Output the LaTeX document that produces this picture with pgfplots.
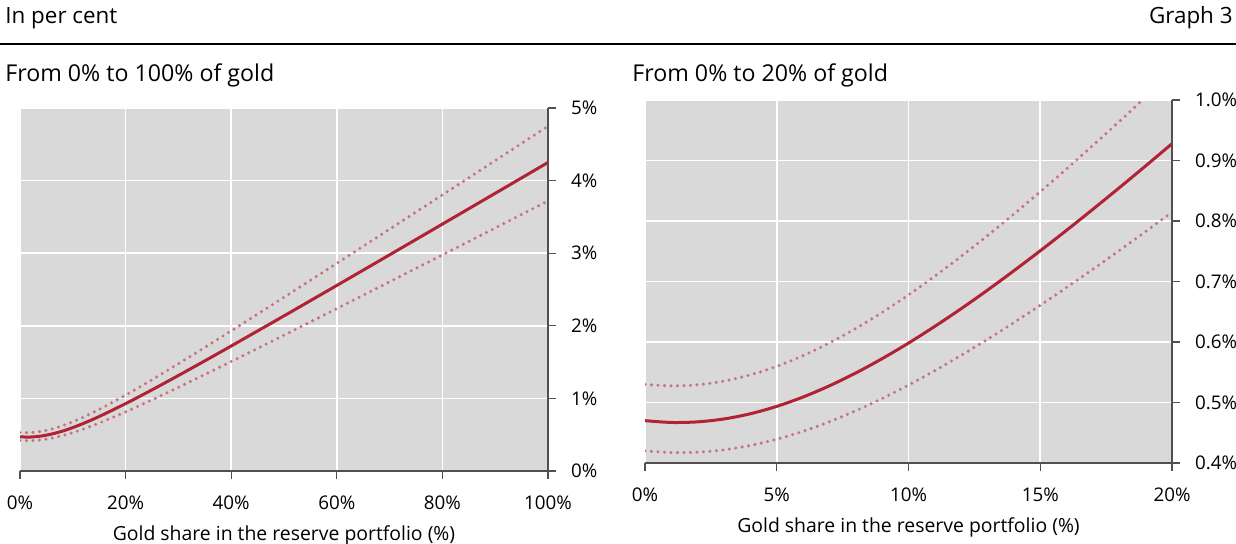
\documentclass[border=0pt]{standalone}
\usepackage{fontspec}
\setmainfont{Open Sans}
\usepackage{pgfplots}
\usepackage{pgfplotstable}
\pgfplotsset{compat=1.18}

\definecolor{plotbg}{RGB}{217,217,217}
\definecolor{axisgray}{RGB}{80,80,80}
\definecolor{mainred}{RGB}{175,35,52}
\definecolor{bandred}{RGB}{196,115,127}

% Gold share (%) against portfolio risk (%): central estimate and band
\pgfplotstableread{
x    mid     hi      lo
0    0.4700  0.5300  0.4200
2    0.4680  0.5293  0.4179
4    0.4814  0.5457  0.4290
6    0.5091  0.5775  0.4524
8    0.5488  0.6224  0.4864
10   0.5982  0.6779  0.5289
12   0.6551  0.7416  0.5780
15   0.7508  0.8484  0.6607
20   0.9278  1.0458  0.8146
25   1.1179  1.2576  0.9802
30   1.3153  1.4776  1.1524
35   1.5171  1.7026  1.3288
40   1.7219  1.9308  1.5077
50   2.1368  2.3934  1.8705
60   2.5560  2.8608  2.2372
70   2.9776  3.3309  2.6062
80   3.4007  3.8028  2.9765
90   3.8249  4.2759  3.3478
100  4.2498  4.7498  3.7197
}\fulltable

\pgfplotstableread{
x    mid     hi      lo
0    0.4700  0.5300  0.4200
1    0.4670  0.5275  0.4173
2    0.4680  0.5293  0.4179
3    0.4728  0.5354  0.4218
4    0.4814  0.5457  0.4290
5    0.4936  0.5598  0.4393
6    0.5091  0.5775  0.4524
7    0.5276  0.5985  0.4682
8    0.5488  0.6224  0.4864
9    0.5725  0.6490  0.5067
10   0.5982  0.6779  0.5289
11   0.6259  0.7089  0.5527
12   0.6551  0.7416  0.5780
13   0.6858  0.7759  0.6045
14   0.7178  0.8115  0.6321
15   0.7508  0.8484  0.6607
16   0.7847  0.8862  0.6902
17   0.8195  0.9250  0.7204
18   0.8550  0.9646  0.7512
19   0.8911  1.0049  0.7827
20   0.9278  1.0458  0.8146
}\zoomtable

\pgfplotsset{
  panel/.style={
    scale only axis,
    axis background/.style={fill=plotbg},
    axis x line*=bottom,
    axis y line*=right,
    axis line style={draw=axisgray, line width=0.6pt},
    tick align=outside,
    major tick length=4pt,
    tick style={draw=axisgray, line width=0.6pt},
    grid=major,
    major grid style={white, line width=0.8pt},
    /pgf/number format/assume math mode=true,
    tick label style={font=\fontsize{9.4}{11}\selectfont, text=black},
    xticklabel style={yshift=-5pt},
    yticklabel style={xshift=4pt},
    every axis x label/.style={at={(axis description cs:0.5,0)}, anchor=base,
      yshift=-34.5pt, font=\fontsize{9.7}{11}\selectfont},
    xlabel={Gold share in the reserve portfolio (\%)},
  },
  mid/.style={mainred, line width=1.5pt, smooth},
  band/.style={bandred, line width=1.7pt, line cap=round,
    dash pattern=on 0pt off 3.25pt, smooth},
}

\begin{document}
\begin{tikzpicture}[x=1pt,y=1pt]
\path[use as bounding box] (0,0) rectangle (618,-272);

\node[anchor=base west, inner sep=0, font=\fontsize{11.2}{13}\selectfont] at (2.5,-11.7) {In per cent};
\node[anchor=base east, inner sep=0, font=\fontsize{11.2}{13}\selectfont] at (616.5,-11.7) {Graph 3};
\draw[line width=1pt] (0,-21.8) -- (618,-21.8);

\node[anchor=base west, inner sep=0, font=\fontsize{11.6}{13}\selectfont] at (2.5,-40.8) {From 0\% to 100\% of gold};
\node[anchor=base west, inner sep=0, font=\fontsize{11.6}{13}\selectfont] at (316,-40.8) {From 0\% to 20\% of gold};

\begin{axis}[panel,
  at={(10pt,-235.5pt)}, anchor=south west,
  width=264pt, height=181.5pt,
  xmin=0, xmax=100, ymin=0, ymax=5,
  xtick={0,20,...,100}, ytick={0,1,...,5},
  xticklabel={\pgfmathprintnumber{\tick}\%},
  yticklabel={\pgfmathprintnumber{\tick}\%},
]
\addplot[band] table[x=x, y=hi] {\fulltable};
\addplot[band] table[x=x, y=lo] {\fulltable};
\addplot[mid] table[x=x, y=mid] {\fulltable};
\end{axis}

\begin{axis}[panel,
  at={(322.5pt,-231.5pt)}, anchor=south west,
  width=263.5pt, height=181.5pt,
  xmin=0, xmax=20, ymin=0.4, ymax=1.0,
  xtick={0,5,...,20}, ytick={0.4,0.5,...,1.0},
  xticklabel={\pgfmathprintnumber{\tick}\%},
  yticklabel={\pgfmathprintnumber[fixed, fixed zerofill, precision=1]{\tick}\%},
]
\addplot[band] table[x=x, y=hi] {\zoomtable};
\addplot[band] table[x=x, y=lo] {\zoomtable};
\addplot[mid] table[x=x, y=mid] {\zoomtable};
\end{axis}
\end{tikzpicture}
\end{document}
